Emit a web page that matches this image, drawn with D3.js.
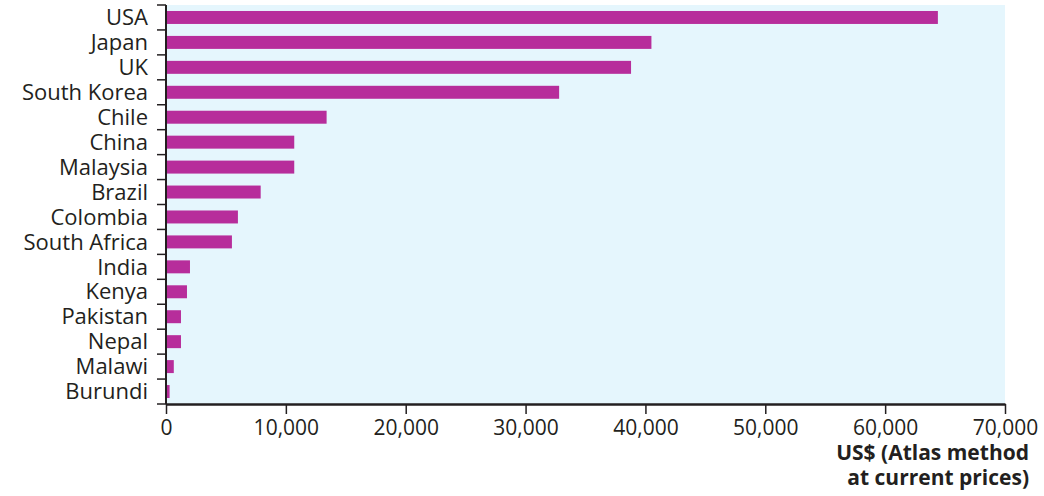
<!DOCTYPE html>
<html lang="en">
<head>
<meta charset="utf-8">
<title>GNI per capita</title>
<script src="https://cdnjs.cloudflare.com/ajax/libs/d3/7.8.5/d3.min.js"></script>
<style>
  body { margin: 0; background: #fff; }
  text { font-family: "Open Sans", sans-serif; fill: #231f20; }
</style>
</head>
<body>
<script>
// data
var countries = ["USA", "Japan", "UK", "South Korea", "Chile", "China", "Malaysia", "Brazil",
                 "Colombia", "South Africa", "India", "Kenya", "Pakistan", "Nepal", "Malawi", "Burundi"];
var gni = [64400, 40500, 38800, 32800, 13400, 10700, 10700, 7900,
           6000, 5500, 2000, 1750, 1250, 1250, 650, 300];
var xTicks = [0, 10000, 20000, 30000, 40000, 50000, 60000, 70000];
var axisTitle = ["US$ (Atlas method", "at current prices)"];

var w = 1044, h = 496;
// plot edges (note: "top" is taken by window.top)
var plotL = 166, plotR = 1005, plotT = 5, plotB = 404;

var svg = d3.select("body").append("svg")
  .attr("width", w)
  .attr("height", h);

var x = d3.scaleLinear().domain([0, 70000]).range([plotL, plotR]);
var y = d3.scaleBand().domain(countries).range([plotT, plotB])
  .paddingInner(0.48).paddingOuter(0.24);

// plot background
svg.append("rect")
  .attr("x", plotL).attr("y", plotT)
  .attr("width", plotR - plotL).attr("height", plotB - plotT)
  .attr("fill", "#e5f6fd");

// bars
svg.selectAll("rect.bar")
  .data(countries)
  .enter()
  .append("rect")
  .attr("class", "bar")
  .attr("x", x(0))
  .attr("y", function(d) { return y(d); })
  .attr("width", function(d, i) { return x(gni[i]) - x(0); })
  .attr("height", y.bandwidth())
  .attr("fill", "#b72d9b");

// y axis: labels at band centres, ticks at band boundaries
var step = y.step();
var bounds = d3.range(countries.length + 1).map(function(i) { return plotT + i * step; });
svg.selectAll("line.ytick")
  .data(bounds)
  .enter()
  .append("line")
  .attr("x1", plotL - 9).attr("x2", plotL)
  .attr("y1", function(d) { return d; })
  .attr("y2", function(d) { return d; })
  .attr("stroke", "#231f20").attr("stroke-width", 1.5);

svg.selectAll("text.ylab")
  .data(countries)
  .enter()
  .append("text")
  .attr("class", "ylab")
  .attr("x", plotL - 18)
  .attr("y", function(d) { return y(d) + y.bandwidth() / 2; })
  .attr("dy", "0.35em")
  .attr("text-anchor", "end")
  .style("font-size", "22px")
  .text(function(d) { return d; });

svg.append("line")
  .attr("x1", plotL).attr("x2", plotL)
  .attr("y1", plotT).attr("y2", plotB)
  .attr("stroke", "#231f20").attr("stroke-width", 2);

// x axis
var xAxis = svg.append("g")
  .attr("transform", "translate(0," + plotB + ")")
  .call(d3.axisBottom(x).tickValues(xTicks).tickFormat(d3.format(","))
    .tickSize(10).tickSizeOuter(0).tickPadding(6));
xAxis.select(".domain").attr("stroke", "#231f20").attr("stroke-width", 2.5);
xAxis.selectAll(".tick line").attr("stroke", "#231f20").attr("stroke-width", 1.5);
xAxis.selectAll(".tick text")
  .style("font-size", "21px")
  .style("font-family", "'Open Sans', sans-serif")
  .attr("fill", "#231f20");

// axis title
svg.selectAll("text.xtitle")
  .data(axisTitle)
  .enter()
  .append("text")
  .attr("class", "xtitle")
  .attr("x", 1029)
  .attr("y", function(d, i) { return 460 + i * 25; })
  .attr("text-anchor", "end")
  .style("font-size", "21px")
  .style("font-weight", "bold")
  .text(function(d) { return d; });
</script>
</body>
</html>
